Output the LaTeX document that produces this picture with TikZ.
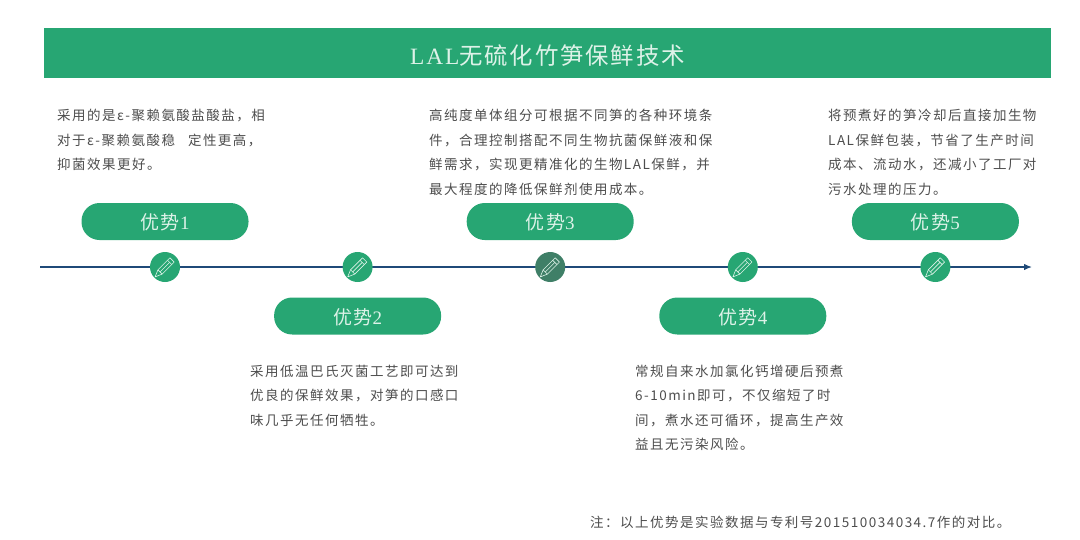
\documentclass[tikz,border=0pt]{standalone}
\usepackage{fontspec}
\setmainfont[LetterSpace=11]{Noto Sans CJK SC}
\newfontfamily\headfont[LetterSpace=8]{Noto Sans CJK SC}
\newfontfamily\latinfont[LetterSpace=8]{Liberation Serif}
\usetikzlibrary{positioning, arrows.meta}
\definecolor{leaf}{HTML}{27A673}
\definecolor{darkleaf}{HTML}{3F7F67}
\definecolor{navy}{HTML}{1F4A78}
\definecolor{bodygray}{HTML}{4D4D4D}
\definecolor{pale}{HTML}{DDF2E8}
\tikzset{
  x=1pt, y=-1pt,
  node distance=192.6pt, % spacing of the markers on the line
  banner/.style={fill=leaf, text=pale, minimum width=1007pt, minimum height=50pt, inner sep=0pt, text height=23pt, text depth=0pt, font=\fontsize{23.4}{23.4}\selectfont\headfont},
  pill/.style={fill=leaf, text=pale, rounded corners=18pt, minimum width=167pt, minimum height=37pt, inner sep=0pt, text height=16pt, text depth=0pt, font=\fontsize{19}{19}\selectfont\headfont},
  marker/.style={circle, fill=leaf, minimum size=30pt, inner sep=0pt},
  body/.style={anchor=north west, align=left, inner sep=0pt, text=bodygray, font=\fontsize{13.5}{24.5}\selectfont},
  pencil/.pic={
    \begin{scope}[rotate=45, draw=pale, line width=0.6pt, line join=round]
      \draw (-7,-3) -- (10,-3) -- (10,3) -- (-7,3) -- (-14,0) -- cycle;
      \draw (-7,-3) -- (-7,3);
      \draw (6.5,-3) -- (6.5,3);
      \draw (-7,0) -- (6.5,0);
    \end{scope}
  },
}
\begin{document}
\begin{tikzpicture}
  \useasboundingbox (0,0) rectangle (1080,539);

  \node[banner] (title) at (547.5,53) {{\latinfont LAL}无硫化竹笋保鲜技术};

  \coordinate (line_start) at (40,267);
  \coordinate (line_end) at (1032,267);
  \draw[navy, line width=1.3pt, -{Latex[length=8pt,width=6.5pt]}] (line_start) -- (line_end);

  \node[marker] (mark_1) at (165,267) {};
  \node[marker, right of=mark_1] (mark_2) {};
  \node[marker, fill=darkleaf, right of=mark_2] (mark_3) {};
  \node[marker, right of=mark_3] (mark_4) {};
  \node[marker, right of=mark_4] (mark_5) {};
  \foreach \m in {1,...,5}
    \pic at (mark_\m) {pencil};

  \node[pill, above of=mark_1, node distance=45.5pt] (adv_1) {优势{\latinfont 1}};
  \node[pill, below of=mark_2, node distance=49pt] (adv_2) {优势{\latinfont 2}};
  \node[pill, above of=mark_3, node distance=45.5pt] (adv_3) {优势{\latinfont 3}};
  \node[pill, below of=mark_4, node distance=49pt] (adv_4) {优势{\latinfont 4}};
  \node[pill, above of=mark_5, node distance=45.5pt] (adv_5) {优势{\latinfont 5}};

  \node[body] (text_1) at (57,109) {采用的是ε-聚赖氨酸盐酸盐，相\\对于ε-聚赖氨酸稳\hspace{13pt}定性更高，\\抑菌效果更好。};
  \node[body] (text_2) at (250,364.5) {采用低温巴氏灭菌工艺即可达到\\优良的保鲜效果，对笋的口感口\\味几乎无任何牺牲。};
  \node[body] (text_3) at (429,109) {高纯度单体组分可根据不同笋的各种环境条\\件，合理控制搭配不同生物抗菌保鲜液和保\\鲜需求，实现更精准化的生物LAL保鲜，并\\最大程度的降低保鲜剂使用成本。};
  \node[body] (text_4) at (635,364.5) {常规自来水加氯化钙增硬后预煮\\6-10min即可，不仅缩短了时\\间，煮水还可循环，提高生产效\\益且无污染风险。};
  \node[body] (text_5) at (828,109) {将预煮好的笋冷却后直接加生物\\LAL保鲜包装，节省了生产时间\\成本、流动水，还减小了工厂对\\污水处理的压力。};
  \node[body] (note) at (590,516) {注：以上优势是实验数据与专利号201510034034.7作的对比。};
\end{tikzpicture}
\end{document}
